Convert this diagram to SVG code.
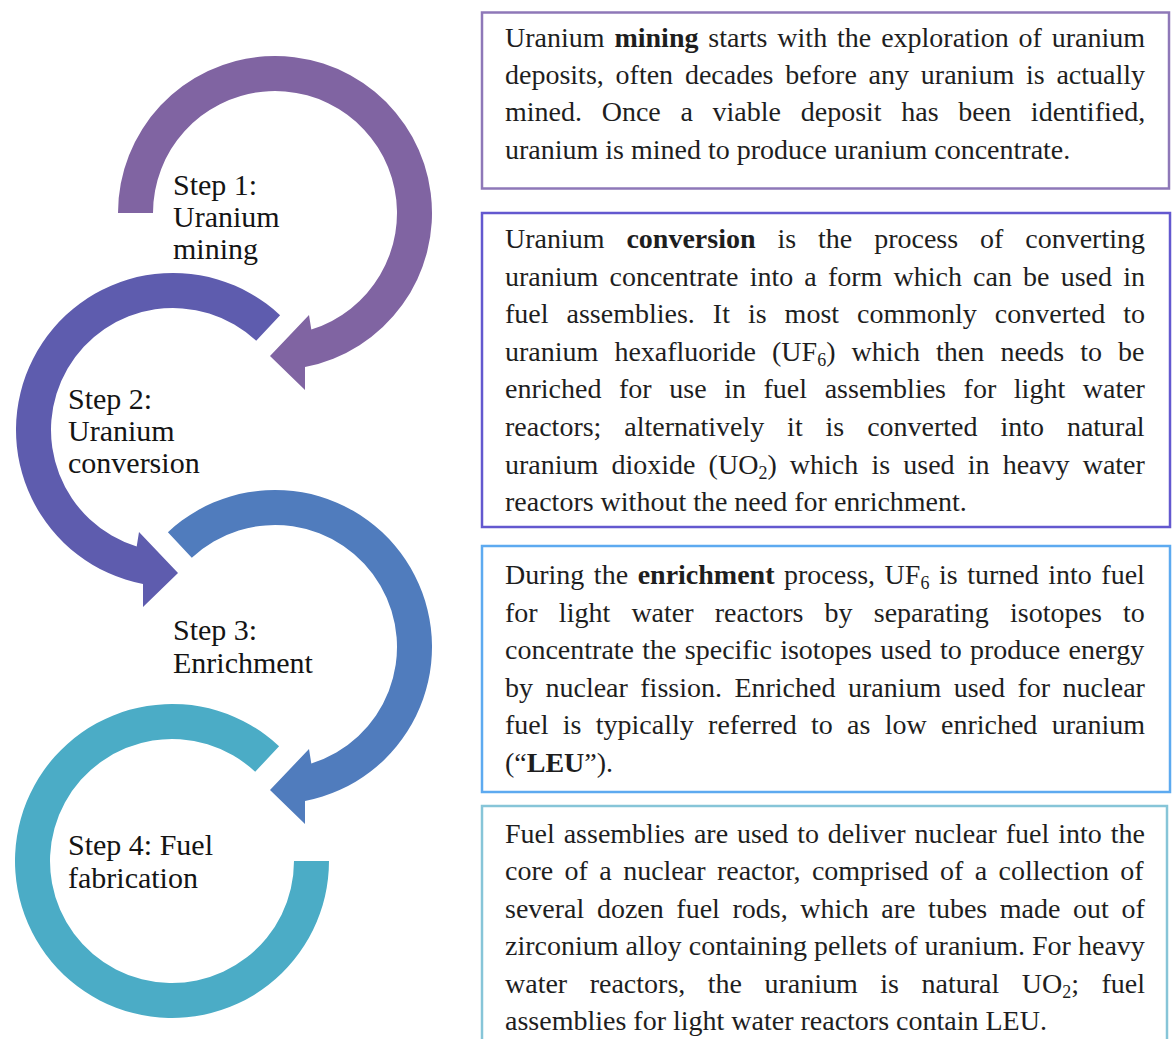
<svg xmlns="http://www.w3.org/2000/svg" width="1173" height="1039" viewBox="0 0 1173 1039">
<style>
.t{font-family:"Liberation Serif","Times New Roman",serif;font-size:28px;fill:#1e1e1e}
.lbl{font-family:"Liberation Serif","Times New Roman",serif;font-size:30px;fill:#141414}
.box{fill:#fff;stroke-width:2.5}
.b{font-weight:bold}
</style>
<rect width="1173" height="1039" fill="#fff"/>
<g id="connectors">
<path id="arrow1" fill="#8064A2" d="M118,213 A157,157 0 1 1 305,367.1 L305,390 L270,356 L309,315 L311.3,329.5 A122,122 0 1 0 153,213 Z"/>
<path id="arrow2" fill="#5E5CAE" d="M280.1,315.2 A157,157 0 1 0 143,584.1 L143,607 L178,573 L139,532 L136.7,546.5 A122,122 0 1 1 256.2,340.8 Z"/>
<path id="arrow3" fill="#507CBD" d="M167.9,532.2 A157,157 0 1 1 305,801.1 L305,824 L270,790 L309,749 L311.3,763.5 A122,122 0 1 0 191.8,557.8 Z"/>
<path id="arrow4" fill="#4BACC6" d="M279.1,746.2 A157,157 0 1 0 329,861 L294,861 A122,122 0 1 1 255.2,771.8 Z"/>
</g>
<g id="step1" class="lbl"><text x="173" y="195">Step 1:</text><text x="173" y="227">Uranium</text><text x="173" y="259">mining</text></g>
<g id="step2" class="lbl"><text x="68" y="409">Step 2:</text><text x="68" y="441">Uranium</text><text x="68" y="473">conversion</text></g>
<g id="step3" class="lbl"><text x="173" y="640">Step 3:</text><text x="173" y="673">Enrichment</text></g>
<g id="step4" class="lbl"><text x="68" y="855">Step 4: Fuel</text><text x="68" y="888">fabrication</text></g>
<g id="box1">
<rect class="box" x="482" y="12.5" width="687" height="176" stroke="#8E78B8"/>
<g class="t">
<text x="505" y="47" word-spacing="2.9">Uranium <tspan class="b">mining</tspan> starts with the exploration of uranium</text>
<text x="505" y="84" word-spacing="4.8">deposits, often decades before any uranium is actually</text>
<text x="505" y="121.3" word-spacing="12.7">mined. Once a viable deposit has been identified,</text>
<text x="505" y="158.6">uranium is mined to produce uranium concentrate.</text>
</g>
</g>
<g id="box2">
<rect class="box" x="482" y="213" width="688" height="314" stroke="#6358CF"/>
<g class="t">
<text x="505" y="248" word-spacing="14.9">Uranium <tspan class="b">conversion</tspan> is the process of converting</text>
<text x="505" y="285.6" word-spacing="4.15">uranium concentrate into a form which can be used in</text>
<text x="505" y="323.2" word-spacing="11">fuel assemblies. It is most commonly converted to</text>
<text x="505" y="360.8" word-spacing="9.1">uranium hexafluoride (UF<tspan font-size="18" dy="5">6</tspan><tspan dy="-5">) which then needs to be</tspan></text>
<text x="505" y="398.4" word-spacing="10.6">enriched for use in fuel assemblies for light water</text>
<text x="505" y="436" word-spacing="15.9">reactors; alternatively it is converted into natural</text>
<text x="505" y="473.6" word-spacing="6.15">uranium dioxide (UO<tspan font-size="18" dy="5">2</tspan><tspan dy="-5">) which is used in heavy water</tspan></text>
<text x="505" y="511.2">reactors without the need for enrichment.</text>
</g>
</g>
<g id="box3">
<rect class="box" x="482" y="546" width="688" height="246" stroke="#5DAAF0"/>
<g class="t">
<text x="505" y="584" word-spacing="2.55">During the <tspan class="b">enrichment</tspan> process, UF<tspan font-size="18" dy="5">6</tspan><tspan dy="-5"> is turned into fuel</tspan></text>
<text x="505" y="621.5" word-spacing="14.2">for light water reactors by separating isotopes to</text>
<text x="505" y="659" word-spacing="1.3">concentrate the specific isotopes used to produce energy</text>
<text x="505" y="696.5" word-spacing="5.45">by nuclear fission. Enriched uranium used for nuclear</text>
<text x="505" y="734" word-spacing="7.3">fuel is typically referred to as low enriched uranium</text>
<text x="505" y="771.5">(“<tspan class="b">LEU</tspan>”).</text>
</g>
</g>
<g id="box4">
<rect class="box" x="482" y="806" width="685" height="260" stroke="#86C5D8"/>
<g class="t">
<text x="505" y="843" word-spacing="1.9">Fuel assemblies are used to deliver nuclear fuel into the</text>
<text x="505" y="880.4" word-spacing="4.4">core of a nuclear reactor, comprised of a collection of</text>
<text x="505" y="917.8" word-spacing="5.6">several dozen fuel rods, which are tubes made out of</text>
<text x="505" y="955.2" word-spacing="0.1">zirconium alloy containing pellets of uranium. For heavy</text>
<text x="505" y="992.6" word-spacing="15.5">water reactors, the uranium is natural UO<tspan font-size="18" dy="5">2</tspan><tspan dy="-5">; fuel</tspan></text>
<text x="505" y="1030">assemblies for light water reactors contain LEU.</text>
</g>
</g>
</svg>
